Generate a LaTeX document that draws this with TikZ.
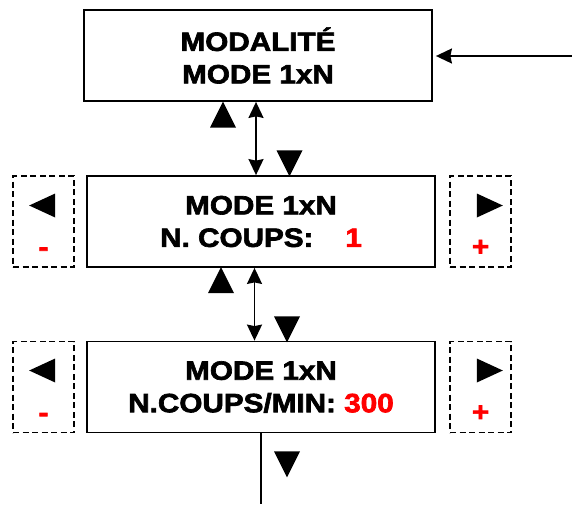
\documentclass[tikz,border=0pt]{standalone}
\usepackage{fontspec}
\setmainfont{Liberation Sans}
\newfontfamily\lcdfont[FakeStretch=1.12,FakeBold=2.5]{Liberation Sans}
\usepackage{xcolor}
\usepackage{tikz}
\usetikzlibrary{positioning,shapes.geometric,arrows.meta}
\newcommand\lcdtext{\lcdfont\bfseries\fontsize{26.5}{32.5}\selectfont}
\tikzset{
  % --- display screens -------------------------------------------------------
  screen/.style={rectangle,draw,line width=1.8pt,minimum width=348pt,
                 minimum height=91pt,inner sep=0pt,align=center,font=\lcdtext},
  keybox/.style={rectangle,draw,line width=1.6pt,dash pattern=on 6pt off 3.5pt,
                 minimum width=61pt,minimum height=91pt,inner sep=0pt},
  % --- key glyphs ------------------------------------------------------------
  tri/.style={isosceles triangle,isosceles triangle stretches,fill=black,
              inner sep=0pt,outer sep=0pt,minimum width=26pt,minimum height=26pt},
  triup/.style={tri,shape border rotate=90},
  tridown/.style={tri,shape border rotate=-90},
  trileft/.style={tri,shape border rotate=180,minimum width=24pt,minimum height=26pt},
  triright/.style={tri,minimum width=24pt,minimum height=26pt},
  sign/.style={anchor=base,inner sep=0pt,text=red,font=\lcdtext},
  % --- links -----------------------------------------------------------------
  link/.style={line width=1.8pt,{Stealth[length=16pt,width=15pt,inset=1.5pt]}-{Stealth[length=16pt,width=15pt,inset=1.5pt]}},
  feed/.style={line width=1.8pt,-{Stealth[length=16pt,width=15pt,inset=1.5pt]}},
  flow/.style={line width=1.8pt},
}

\begin{document}
\begin{tikzpicture}[x=1pt, y=-1pt]
  \useasboundingbox (0,0) rectangle (572,504);

  % screens
  \node[screen] (m1) at (258,55.5) {MODALITÉ\\MODE 1xN};
  \node[screen] (m2) at (261,221.5)
    {MODE 1xN\\N. COUPS:\hspace{1.2em}\textcolor{red}{1}};
  \node[screen] (m3) at (261,387)
    {MODE 1xN\\N.COUPS/MIN: \textcolor{red}{300}};

  % minus / plus keys
  \node[keybox] (kl2) at (43.5,221.5) {};
  \node[keybox] (kr2) at (480.5,221.5) {};
  \node[keybox] (kl3) at (43.5,387) {};
  \node[keybox] (kr3) at (480.5,387) {};

  \node[trileft]  (tl2) at (47.5,205.5) {};
  \node[triright] (tr2) at (484.5,205.5) {};
  \node[trileft]  (tl3) at (47.5,370.5) {};
  \node[triright] (tr3) at (484.5,370.5) {};

  \node[sign] (ml2) at (43.5,256) {-};
  \node[sign] (pl2) at (480.5,255.5) {+};
  \node[sign] (ml3) at (43.5,421.5) {-};
  \node[sign] (pl3) at (480.5,421) {+};

  % up / down keys between screens
  \node[triup]   (u1) at (223,119.5) {};
  \node[tridown] (d1) at (289.5,158.5) {};
  \node[triup]   (u2) at (221,285) {};
  \node[tridown] (d2) at (287,324.5) {};
  \node[tridown] (d3) at (287,459.5) {};

  % links
  \coordinate (back) at (572,56);
  \coordinate (exit) at (261,504);
  \draw[feed,shorten >=3pt] (back) -- (m1.east |- back);
  \draw[link] ([xshift=-2pt]m1.south) -- ([xshift=-5pt]m2.north);
  \draw[link] ([xshift=-6.5pt]m2.south) -- ([xshift=-6.5pt]m3.north);
  \draw[flow] (m3.south) -- (exit);
\end{tikzpicture}
\end{document}
